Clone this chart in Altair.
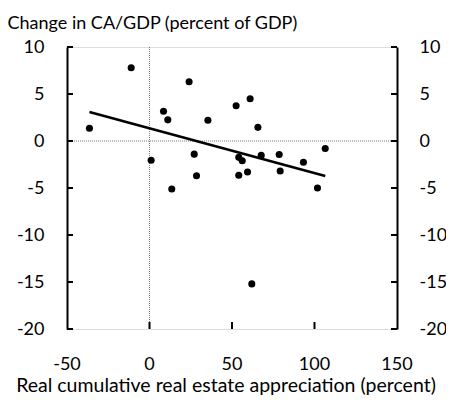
import altair as alt
import pandas as pd

appreciation = [-36.4, -11.1, 24.0, 8.5, 11.1, 35.4, 52.5, 61.0, 65.7,
                1.0, 27.1, 28.5, 13.5, 54.1, 56.2, 54.1, 59.4, 67.7,
                78.6, 79.2, 93.3, 101.8, 106.5, 62.0]
ca_change = [1.35, 7.8, 6.3, 3.16, 2.25, 2.2, 3.75, 4.5, 1.45,
             -2.05, -1.4, -3.7, -5.1, -1.74, -2.1, -3.65, -3.3, -1.53,
             -1.43, -3.2, -2.26, -5.0, -0.8, -15.2]
y_ticks = [10, 5, 0, -5, -10, -15, -20]
x_ticks = [-50, 0, 50, 100, 150]
x_tick_labels = ["-50", "0", "50", "100", "150"]
x_inner_ticks = [0, 50, 100]

W, H = 330, 282
FONT = "Lato"

pts = pd.DataFrame({"appr": appreciation, "ca": ca_change})
yt = pd.DataFrame({"yv": y_ticks})
xt = pd.DataFrame({"xv": x_inner_ticks})
xl = pd.DataFrame({"xv": x_ticks, "lab": x_tick_labels})
zero = pd.DataFrame({"v": [0]})

xs = alt.Scale(domain=[-50, 150], nice=False, zero=False)
ys = alt.Scale(domain=[-20, 10], nice=False, zero=False)

base_axis = dict(domainColor="black", domainWidth=2, ticks=False, grid=False,
                 labelFont=FONT, labelFontSize=18, labelColor="black",
                 labelExpr="datum.value + ''",
                 titleFont=FONT, titleFontSize=18, titleFontWeight="normal",
                 titleColor="black")

x_axis = alt.Axis(values=x_ticks, orient="bottom", labels=False, title=None,
                  domainColor="black", domainWidth=2, ticks=False, grid=False)
y_axis_left = alt.Axis(values=y_ticks, orient="left", labelPadding=23,
                       title="Change in CA/GDP (percent of GDP)",
                       titleAngle=0, titleX=-60, titleY=-19,
                       titleAlign="left", titleBaseline="alphabetic",
                       titleAnchor="start", **base_axis)
y_axis_right = alt.Axis(values=y_ticks, orient="right", labelPadding=22,
                        title=None, **base_axis)

vrule = alt.Chart(zero).mark_rule(color="#777777", strokeDash=[1, 1], strokeWidth=1).encode(
    x=alt.X("v:Q", scale=xs, axis=None))
hrule = alt.Chart(zero).mark_rule(color="#777777", strokeDash=[1, 1], strokeWidth=1).encode(
    y=alt.Y("v:Q", scale=ys, axis=None))

points = alt.Chart(pts).mark_circle(size=50, color="black", opacity=1).encode(
    x=alt.X("appr:Q", scale=xs, axis=None),
    y=alt.Y("ca:Q", scale=ys, axis=y_axis_left),
)

fit = alt.Chart(pts).transform_regression("appr", "ca").mark_line(
    color="black", strokeWidth=2.5).encode(
    x=alt.X("appr:Q", scale=xs, axis=None),
    y=alt.Y("ca:Q", scale=ys, axis=None),
)

left_ticks = alt.Chart(yt).mark_tick(orient="horizontal", size=6, thickness=2,
                                     color="black", xOffset=3, opacity=1).encode(
    y=alt.Y("yv:Q", scale=ys, axis=None), x=alt.value(0))

right_ticks = alt.Chart(yt).mark_tick(orient="horizontal", size=6, thickness=2,
                                      color="black", xOffset=-3, opacity=1).encode(
    y=alt.Y("yv:Q", scale=ys, axis=y_axis_right), x=alt.value(W))

bottom_ticks = alt.Chart(xt).mark_tick(orient="vertical", size=7, thickness=2,
                                       color="black", yOffset=-3.5, opacity=1).encode(
    x=alt.X("xv:Q", scale=xs, axis=x_axis), y=alt.value(H))

x_labels = alt.Chart(xl).mark_text(font=FONT, fontSize=18, color="black",
                                   align="center", baseline="alphabetic", dy=41).encode(
    x=alt.X("xv:Q", scale=xs, axis=None), y=alt.value(H), text="lab:N")

chart = alt.layer(vrule, hrule, fit, points, left_ticks, right_ticks, bottom_ticks,
                  x_labels).resolve_axis(
    y="independent"
).properties(
    width=W, height=H,
    autosize=alt.AutoSizeParams(type="none"),
    padding={"left": 59, "top": 39, "right": 49, "bottom": 68},
    title=alt.TitleParams(text="Real cumulative real estate appreciation  (percent)",
                          orient="bottom", anchor="middle", frame="group", dx=-6,
                          offset=3, font=FONT, fontSize=19.5, fontWeight="normal",
                          color="black"),
).configure_view(stroke=None).configure(background="white")

chart.save("out.html", embed_options={"renderer": "svg", "actions": False})
